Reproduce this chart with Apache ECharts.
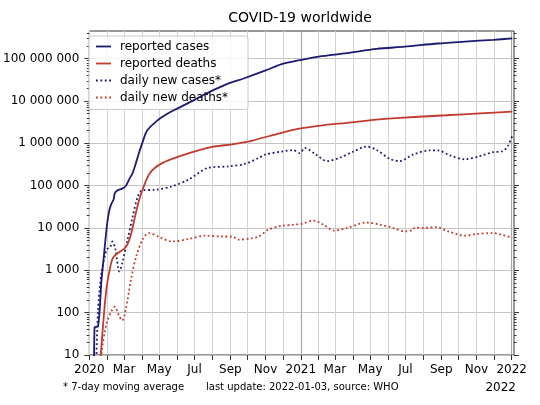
<!DOCTYPE html>
<html>
<head>
<meta charset="utf-8">
<script src="https://cdn.jsdelivr.net/npm/echarts@6/dist/echarts.min.js"></script>
<style>
html,body{margin:0;padding:0;background:#fff;}
#chart{width:540px;height:405px;}
</style>
</head>
<body>
<div id="chart"></div>
<script>
// ---- data ----
const reportedCases = [
  ['2020-01-09', 1], ['2020-01-10', 45], ['2020-01-16', 47], ['2020-01-22', 580],
  ['2020-01-25', 1500], ['2020-01-31', 10000], ['2020-02-04', 24000], ['2020-02-08', 37000],
  ['2020-02-12', 47000], ['2020-02-14', 66000], ['2020-02-19', 78000], ['2020-02-27', 85000],
  ['2020-03-04', 98000], ['2020-03-10', 141000], ['2020-03-16', 200000], ['2020-03-22', 355000],
  ['2020-03-27', 600000], ['2020-04-02', 1050000], ['2020-04-10', 2000000], ['2020-04-27', 3400000],
  ['2020-05-15', 5000000], ['2020-06-01', 6600000], ['2020-06-30', 10500000], ['2020-07-28', 16600000],
  ['2020-08-26', 25000000], ['2020-09-24', 34000000], ['2020-10-31', 52000000], ['2020-11-29', 74000000],
  ['2020-12-30', 92000000], ['2021-02-01', 112000000], ['2021-03-22', 135000000], ['2021-05-12', 170000000],
  ['2021-06-30', 192000000], ['2021-08-26', 228000000], ['2021-10-12', 253000000], ['2021-11-30', 278000000],
  ['2022-01-02', 300000000]
];
const reportedDeaths = [
  ['2020-01-18', 3], ['2020-01-22', 17], ['2020-01-27', 120], ['2020-01-31', 400],
  ['2020-02-05', 1000], ['2020-02-11', 2000], ['2020-02-22', 2700], ['2020-03-01', 3200],
  ['2020-03-07', 4100], ['2020-03-13', 7000], ['2020-03-19', 16000], ['2020-03-26', 40000],
  ['2020-04-02', 80000], ['2020-04-15', 200000], ['2020-05-06', 340000], ['2020-06-10', 520000],
  ['2020-07-31', 820000], ['2020-09-04', 950000], ['2020-10-08', 1150000], ['2020-11-12', 1550000],
  ['2020-12-27', 2200000], ['2021-02-11', 2700000], ['2021-03-22', 3050000], ['2021-05-07', 3600000],
  ['2021-06-21', 4000000], ['2021-09-10', 4600000], ['2021-11-07', 5100000], ['2022-01-02', 5600000]
];
const dailyNewCases = [
  ['2020-01-12', 2], ['2020-01-16', 115], ['2020-01-22', 870], ['2020-01-31', 3100],
  ['2020-02-06', 3500], ['2020-02-10', 4800], ['2020-02-15', 3200], ['2020-02-22', 940],
  ['2020-02-27', 1500], ['2020-03-07', 5200], ['2020-03-16', 18600], ['2020-03-25', 56000],
  ['2020-04-02', 78000], ['2020-04-24', 80000], ['2020-05-23', 96000], ['2020-06-21', 140000],
  ['2020-07-25', 265000], ['2020-08-29', 285000], ['2020-09-27', 330000], ['2020-10-20', 450000],
  ['2020-10-31', 540000], ['2020-11-29', 640000], ['2020-12-19', 690000], ['2020-12-30', 590000],
  ['2021-01-08', 780000], ['2021-01-25', 570000], ['2021-02-16', 380000], ['2021-03-10', 460000],
  ['2021-04-02', 640000], ['2021-04-25', 840000], ['2021-05-12', 700000], ['2021-06-04', 430000],
  ['2021-06-21', 380000], ['2021-07-14', 540000], ['2021-08-12', 680000], ['2021-08-26', 680000],
  ['2021-09-16', 520000], ['2021-10-12', 420000], ['2021-11-07', 500000], ['2021-11-30', 620000],
  ['2021-12-16', 650000], ['2021-12-25', 850000], ['2022-01-02', 1500000]
];
const dailyNewDeaths = [
  ['2020-01-20', 2], ['2020-01-22', 11], ['2020-01-31', 57], ['2020-02-08', 107],
  ['2020-02-14', 138], ['2020-02-22', 81], ['2020-02-27', 65], ['2020-03-04', 117],
  ['2020-03-13', 600], ['2020-03-22', 2100], ['2020-04-02', 5300], ['2020-04-13', 7600],
  ['2020-04-30', 6200], ['2020-05-23', 4800], ['2020-06-21', 5500], ['2020-07-19', 6600],
  ['2020-08-17', 6300], ['2020-09-04', 6300], ['2020-09-15', 5300], ['2020-10-08', 5700],
  ['2020-10-20', 6300], ['2020-11-06', 9100], ['2020-11-29', 11300], ['2020-12-21', 12000],
  ['2021-01-03', 12600], ['2021-01-23', 15000], ['2021-02-09', 12000], ['2021-02-27', 8700],
  ['2021-03-22', 10000], ['2021-04-25', 13500], ['2021-05-18', 12000], ['2021-06-10', 10000],
  ['2021-06-30', 8300], ['2021-07-14', 9000], ['2021-07-17', 10200], ['2021-08-01', 10000],
  ['2021-08-24', 10500], ['2021-09-13', 8300], ['2021-10-12', 6600], ['2021-11-01', 7200],
  ['2021-11-30', 7600], ['2021-12-16', 6900], ['2022-01-02', 5800]
];
const seriesNames = ['reported cases', 'reported deaths', 'daily new cases*', 'daily new deaths*'];
const yMajorTicks = [10, 100, 1000, 10000, 100000, 1000000, 10000000, 100000000];
const monthNames = ['Jan','Feb','Mar','Apr','May','Jun','Jul','Aug','Sep','Oct','Nov','Dec'];
const xTickMonths = ['2020-01','2020-02','2020-03','2020-04','2020-05','2020-06','2020-07','2020-08','2020-09','2020-10','2020-11','2020-12',
  '2021-01','2021-02','2021-03','2021-04','2021-05','2021-06','2021-07','2021-08','2021-09','2021-10','2021-11','2021-12','2022-01'];
const xLabelMonths = ['2020-01','2020-03','2020-05','2020-07','2020-09','2020-11','2021-01','2021-03','2021-05','2021-07','2021-09','2021-11','2022-01'];
const yearLines = ['2021-01-01', '2022-01-01'];
const titleText = 'COVID-19 worldwide';
const footnote1 = '* 7-day moving average';
const footnote2 = 'last update: 2022-01-03, source: WHO';
const offsetText = '2022';

// ---- styling ----
const NAVY = '#1b1b72';
const RED = '#c23a2e';
const FONT = 'DejaVu Sans';
const SOLID_ICON = 'path://M0,0h15v1.8h-15z';
const DOT_ICON = 'path://M0,0h1.8v1.8h-1.8zM4.4,0h1.8v1.8h-1.8zM8.8,0h1.8v1.8h-1.8zM13.2,0h1.8v1.8h-1.8z';
const yMinor = [];
for (let e = 1; e <= 8; e++) for (let k = 2; k <= 9; k++) yMinor.push(k * Math.pow(10, e));
const toTs = s => { const p = s.split('-').map(Number); return Date.UTC(p[0], p[1] - 1, p[2] || 1); };
const xTicks = xTickMonths.map(toTs);
const xLabels = xLabelMonths.map(toTs);
const toPts = arr => arr.map(d => [toTs(d[0]), d[1]]);
const fmtY = v => String(Math.round(v)).replace(/\B(?=(\d{3})+(?!\d))/g, ' ');
const fmtX = v => { const d = new Date(v); return d.getUTCMonth() === 0 ? String(d.getUTCFullYear()) : monthNames[d.getUTCMonth()]; };

const YMIN = 10, YMAX = 4.5e8;
const XMIN = toTs('2020-01-01'), XMAX = toTs('2022-01-05');

function yAx(pos, labels, ticks, len) {
  return {
    type: 'log', logBase: 10, min: YMIN, max: YMAX, position: pos,
    axisLine: { show: false },
    axisTick: { show: true, length: len, customValues: ticks, lineStyle: { color: '#333', width: 1 } },
    axisLabel: labels ? { show: true, customValues: yMajorTicks, formatter: fmtY, color: '#000', fontFamily: FONT, fontSize: 12, margin: 10 } : { show: false },
    splitLine: labels ? { show: true, lineStyle: { color: '#c4c4c4', width: 1 } } : { show: false },
    minorTick: { show: false }
  };
}

const lineSeries = (name, data, color, dotted, z) => ({
  name, type: 'line', data: toPts(data), showSymbol: false, symbol: 'none',
  smooth: 0.3, z,
  lineStyle: { color, width: 1.8, type: dotted ? [1.8, 2.6] : 'solid' },
  itemStyle: { color },
  emphasis: { disabled: true }
});

const chart = echarts.init(document.getElementById('chart'), null, { renderer: 'canvas' });
chart.setOption({
  animation: false,
  backgroundColor: '#fff',
  textStyle: { fontFamily: FONT },
  grid: { left: 86, right: 26, top: 31, bottom: 50, show: true, borderColor: '#333', borderWidth: 1, containLabel: false },
  xAxis: {
    type: 'value', min: XMIN, max: XMAX,
    axisLine: { show: false },
    axisTick: { show: true, length: 5, customValues: xTicks, lineStyle: { color: '#333' } },
    axisLabel: { show: true, customValues: xLabels, formatter: fmtX, color: '#000', fontFamily: FONT, fontSize: 12, margin: 9 },
    splitLine: { show: true, lineStyle: { color: '#d2d2d2', width: 1 } }
  },
  yAxis: [
    yAx('left', true, yMajorTicks, 5),
    yAx('left', false, yMinor, 2.5),
    yAx('right', false, yMajorTicks, 5),
    yAx('right', false, yMinor, 2.5)
  ],
  legend: {
    show: true, orient: 'vertical', left: 89, top: 36,
    data: [
      { name: seriesNames[0], icon: SOLID_ICON, itemStyle: { color: NAVY } },
      { name: seriesNames[1], icon: SOLID_ICON, itemStyle: { color: RED } },
      { name: seriesNames[2], icon: DOT_ICON, itemStyle: { color: NAVY } },
      { name: seriesNames[3], icon: DOT_ICON, itemStyle: { color: RED } }
    ],
    itemWidth: 15, itemHeight: 2, itemGap: 5,
    itemStyle: { borderWidth: 0 },
    lineStyle: { width: 0 },
    padding: [4.5, 20, 6, 7],
    backgroundColor: 'rgba(255,255,255,0.8)', borderColor: '#cccccc', borderWidth: 1, borderRadius: 3,
    textStyle: { color: '#000', fontFamily: FONT, fontSize: 12, lineHeight: 12, padding: [0, 0, 0, 4] },
    selectedMode: false
  },
  graphic: [
    { type: 'text', x: 300, y: 18, style: { text: titleText, fill: '#000', font: '14px "DejaVu Sans"', textAlign: 'center', textVerticalAlign: 'middle' } },
    { type: 'text', x: 63, y: 387, style: { text: footnote1, fill: '#000', font: '10px "DejaVu Sans"', textAlign: 'left', textVerticalAlign: 'middle' } },
    { type: 'text', x: 206, y: 387, style: { text: footnote2, fill: '#000', font: '10px "DejaVu Sans"', textAlign: 'left', textVerticalAlign: 'middle' } },
    { type: 'text', x: 516, y: 388, style: { text: offsetText, fill: '#000', font: '12px "DejaVu Sans"', textAlign: 'right', textVerticalAlign: 'middle' } }
  ],
  series: [
    Object.assign(lineSeries(seriesNames[0], reportedCases, NAVY, false, 5), {
      markLine: {
        silent: true, symbol: 'none', label: { show: false }, z: 1,
        lineStyle: { color: '#a8a8a8', width: 1.2, type: 'solid' },
        data: yearLines.map(d => ({ xAxis: toTs(d) }))
      }
    }),
    lineSeries(seriesNames[1], reportedDeaths, RED, false, 5),
    lineSeries(seriesNames[2], dailyNewCases, NAVY, true, 4),
    lineSeries(seriesNames[3], dailyNewDeaths, RED, true, 4)
  ]
});
</script>
</body>
</html>
